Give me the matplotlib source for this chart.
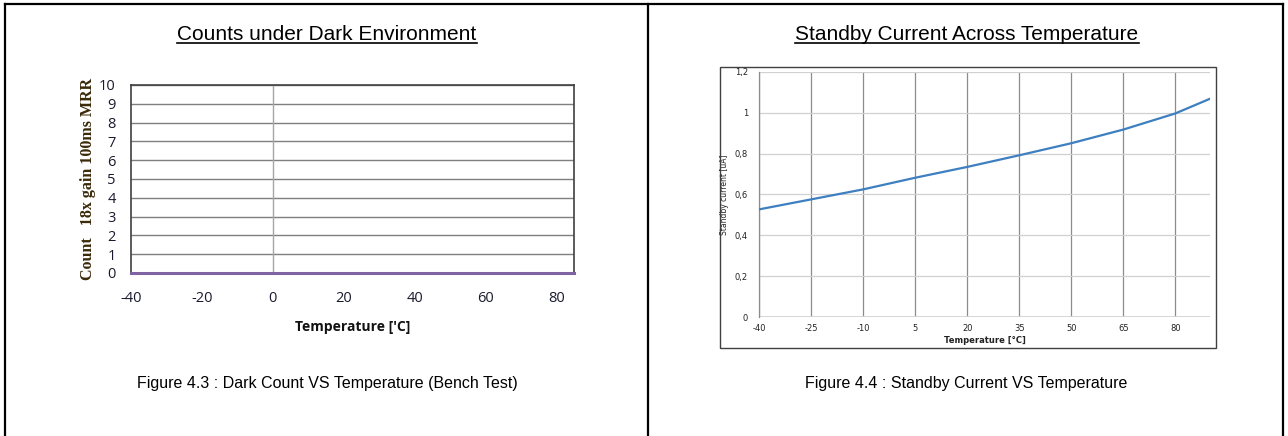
import matplotlib
matplotlib.use("Agg")
import matplotlib.pyplot as plt
from matplotlib.lines import Line2D
from matplotlib.patches import Rectangle

plt.rcParams["axes.unicode_minus"] = False

# ---- data ----
dark_temps = [-40, -20, 0, 20, 40, 60, 85]
dark_counts = [0, 0, 0, 0, 0, 0, 0]
dark_xticks = [-40, -20, 0, 20, 40, 60, 80]
dark_yticks = [0, 1, 2, 3, 4, 5, 6, 7, 8, 9, 10]

standby_temps = [-40, -25, -10, 5, 20, 35, 50, 65, 80, 90]
standby_current = [0.527, 0.576, 0.625, 0.682, 0.735, 0.792, 0.851, 0.918, 0.997, 1.069]
standby_xticks = [-40, -25, -10, 5, 20, 35, 50, 65, 80]
standby_yticks = [0, 0.2, 0.4, 0.6, 0.8, 1.0, 1.2]
standby_yticklabels = ["0", "0,2", "0,4", "0,6", "0,8", "1", "1,2"]

W, H = 1288, 436
fig = plt.figure(figsize=(W / 100, H / 100), dpi=100)
fig.patch.set_facecolor("white")

def fx(px):
    return px / W

def fy(py):
    return 1 - py / H

sans = "Liberation Sans"

# ---- table borders ----
for (x0, y0, x1, y1) in [(5, 4, 1283, 4), (5, 4, 5, 436), (648, 4, 648, 436), (1283, 4, 1283, 436)]:
    fig.add_artist(Line2D([fx(x0), fx(x1)], [fy(y0), fy(y1)], color="black", lw=1.6))

# ---- titles & captions ----
t1 = fig.text(fx(327), fy(35), "Counts under Dark Environment", ha="center", va="center",
              fontsize=15, family=sans, color="black")
t2 = fig.text(fx(967), fy(35), "Standby Current Across Temperature", ha="center", va="center",
              fontsize=15, family=sans, color="black")
fig.text(fx(327), fy(383), "Figure 4.3 : Dark Count VS Temperature (Bench Test)", ha="center",
         va="center", fontsize=11.5, family=sans, color="black")
fig.text(fx(966), fy(383), "Figure 4.4 : Standby Current VS Temperature", ha="center",
         va="center", fontsize=11.5, family=sans, color="black")

# ---- left chart ----
ax1 = fig.add_axes([fx(131), fy(273), fx(574 - 131), (273 - 85) / H])
ax1.plot(dark_temps, dark_counts, color="#8064a2", lw=2.2, zorder=5, clip_on=False)
ax1.set_xlim(-40, 85)
ax1.set_ylim(0, 10)
ax1.set_xticks(dark_xticks)
ax1.set_yticks(dark_yticks)
ax1.yaxis.grid(True, color="#7f7f7f", lw=1.0)
ax1.axvline(0, color="#a6a6a6", lw=1.0)
ax1.set_axisbelow(True)
for s in ["top", "right", "left"]:
    ax1.spines[s].set_color("#404040")
    ax1.spines[s].set_linewidth(1.2)
ax1.spines["bottom"].set_visible(False)
ax1.tick_params(axis="both", length=0, labelsize=10.5, colors="#1a1a2e")
ax1.tick_params(axis="x", pad=13)
ax1.tick_params(axis="y", pad=11)
for lab in ax1.get_xticklabels() + ax1.get_yticklabels():
    lab.set_family("Open Sans")
ax1.set_xlabel("Temperature ['C]", fontsize=10, fontweight="bold", family="Open Sans",
               color="#111111", labelpad=10)
ax1.set_ylabel("Count   18x gain 100ms MRR", fontsize=11.5, fontweight="bold",
               family="Liberation Serif", color="#3a2a0a", labelpad=2)

# ---- right chart ----
fig.add_artist(Rectangle((fx(720), fy(348)), fx(1216 - 720), (348 - 67) / H,
                         transform=fig.transFigure, fill=False, ec="#404040", lw=1.0))
ax2 = fig.add_axes([fx(759), fy(317), fx(1210 - 759), (317 - 72) / H])
ax2.plot(standby_temps, standby_current, color="#3d7fc0", lw=1.6, zorder=5)
ax2.set_xlim(-40, 90)
ax2.set_ylim(0, 1.2)
ax2.set_xticks(standby_xticks)
ax2.set_yticks(standby_yticks)
ax2.set_yticklabels(standby_yticklabels)
ax2.xaxis.grid(True, color="#8c8c8c", lw=0.9)
ax2.yaxis.grid(True, color="#d0d0d0", lw=0.9)
ax2.set_axisbelow(True)
for s in ["top", "right", "bottom"]:
    ax2.spines[s].set_visible(False)
ax2.spines["left"].set_color("#8c8c8c")
ax2.spines["left"].set_linewidth(0.9)
ax2.axhline(0, color="#d0d0d0", lw=1.2)
ax2.tick_params(axis="both", length=0, labelsize=6, colors="#222222")
ax2.tick_params(axis="x", pad=5)
ax2.tick_params(axis="y", pad=8)
ax2.set_xlabel("Temperature [°C]", fontsize=6, fontweight="bold", color="#222222", labelpad=2)
ax2.set_ylabel("Standby current [uA]", fontsize=5.5, color="#222222", labelpad=4)

# ---- underline titles ----
fig.canvas.draw()
r = fig.canvas.get_renderer()
for t in (t1, t2):
    bb = t.get_window_extent(r).transformed(fig.transFigure.inverted())
    yline = bb.y0 + 0.004
    fig.add_artist(Line2D([bb.x0, bb.x1], [yline, yline], color="black", lw=1.2))

fig.savefig("out.png", dpi=100, facecolor="white")
